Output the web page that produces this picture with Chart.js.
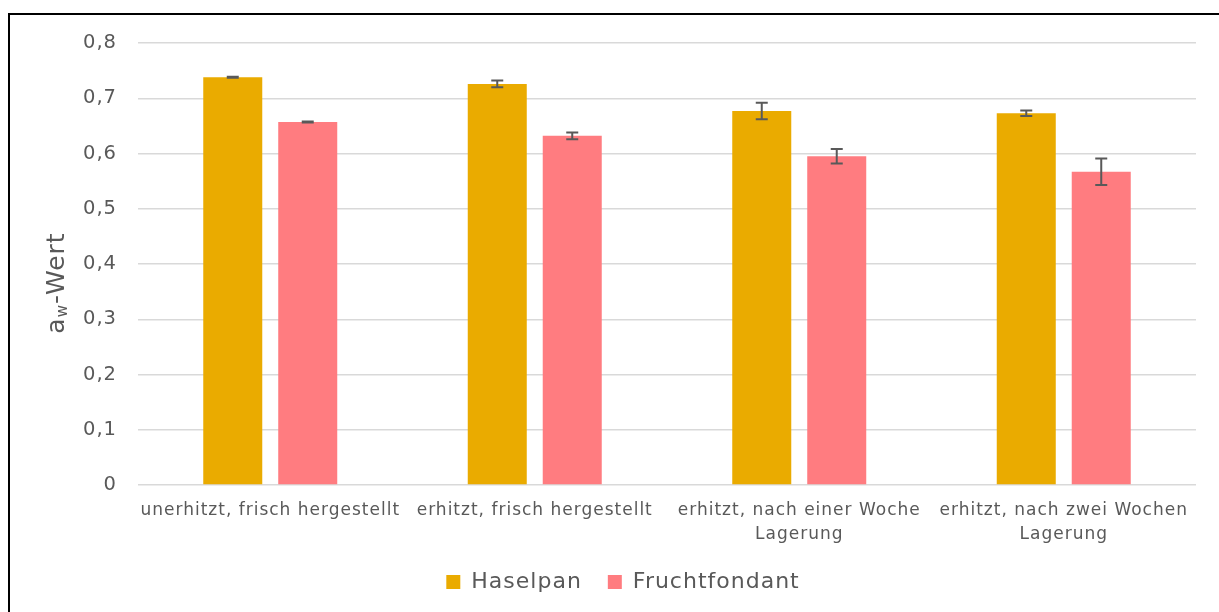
<!DOCTYPE html>
<html>
<head>
<meta charset="utf-8">
<script src="https://cdn.jsdelivr.net/npm/chart.js@4.4.1/dist/chart.umd.min.js"></script>
<style>
    html, body { margin: 0; padding: 0; background: #fff; }
    #wrap { position: relative; width: 1219px; height: 612px; overflow: hidden; }
    #frame {
        position: absolute; left: 8px; top: 13px; width: 1400px; height: 800px;
        border-left: 2px solid #000; border-top: 2px solid #000; pointer-events: none;
    }
    canvas { position: absolute; left: 0; top: 0; }
</style>
</head>
<body>
<div id="wrap">
    <canvas id="awChart" width="1219" height="612"></canvas>
    <div id="frame"></div>
</div>
<script>
// Data
const categories = [
    'unerhitzt, frisch hergestellt',
    'erhitzt, frisch hergestellt',
    ['erhitzt, nach einer Woche', 'Lagerung'],
    ['erhitzt, nach zwei Wochen', 'Lagerung']
];
const seriesNames = ['Haselpan', 'Fruchtfondant'];
const haselpan = [0.738, 0.726, 0.677, 0.673];
const haselpanErr = [0.001, 0.006, 0.015, 0.005];
const fruchtfondant = [0.657, 0.632, 0.595, 0.567];
const fruchtfondantErr = [0.001, 0.006, 0.013, 0.024];
const yTicks = [0, 0.1, 0.2, 0.3, 0.4, 0.5, 0.6, 0.7, 0.8];

const textColor = '#595959';
const fontFamily = '"DejaVu Sans", Verdana, sans-serif';

// Slightly wider text, like the original rendering
const spacingPlugin = {
    id: 'spacing',
    beforeInit(chart) { chart.ctx.letterSpacing = '1px'; },
    beforeUpdate(chart) { chart.ctx.letterSpacing = '1px'; },
    beforeDraw(chart) { chart.ctx.letterSpacing = '1px'; }
};

// Draws the error bars from the errors array stored on each dataset
const errorBarPlugin = {
    id: 'errorBars',
    afterDatasetsDraw(chart) {
        const ctx = chart.ctx;
        const yScale = chart.scales.y;
        chart.data.datasets.forEach((ds, i) => {
            const meta = chart.getDatasetMeta(i);
            meta.data.forEach((bar, j) => {
                const v = ds.data[j];
                const e = ds.errors[j];
                const top = yScale.getPixelForValue(v + e);
                const bottom = yScale.getPixelForValue(v - e);
                ctx.save();
                ctx.strokeStyle = '#595959';
                ctx.lineWidth = 2;
                ctx.beginPath();
                ctx.moveTo(bar.x, top);
                ctx.lineTo(bar.x, bottom);
                ctx.moveTo(bar.x - 6, top);
                ctx.lineTo(bar.x + 6, top);
                ctx.moveTo(bar.x - 6, bottom);
                ctx.lineTo(bar.x + 6, bottom);
                ctx.stroke();
                ctx.restore();
            });
        });
    }
};

// Y axis title with subscript w
const yTitlePlugin = {
    id: 'yTitle',
    afterDraw(chart) {
        const ctx = chart.ctx;
        ctx.save();
        ctx.translate(57, 283);
        ctx.rotate(-Math.PI / 2);
        ctx.fillStyle = textColor;
        ctx.textBaseline = 'middle';
        ctx.font = '25px ' + fontFamily;
        const wA = ctx.measureText('a').width;
        ctx.font = '15px ' + fontFamily;
        const wW = ctx.measureText('w').width;
        ctx.font = '25px ' + fontFamily;
        const wRest = ctx.measureText('-Wert').width;
        let x = -(wA + wW + wRest) / 2;
        ctx.textAlign = 'left';
        ctx.fillText('a', x, 0);
        x += wA;
        ctx.font = '15px ' + fontFamily;
        ctx.fillText('w', x, 6);
        x += wW;
        ctx.font = '25px ' + fontFamily;
        ctx.fillText('-Wert', x, 0);
        ctx.restore();
    }
};

new Chart(document.getElementById('awChart'), {
    type: 'bar',
    data: {
        labels: categories,
        datasets: [{
            label: seriesNames[0],
            data: haselpan,
            errors: haselpanErr,
            backgroundColor: '#EAAB00',
            categoryPercentage: 0.567,
            barPercentage: 0.787
        }, {
            label: seriesNames[1],
            data: fruchtfondant,
            errors: fruchtfondantErr,
            backgroundColor: '#FF7C80',
            categoryPercentage: 0.567,
            barPercentage: 0.787
        }]
    },
    options: {
        responsive: false,
        animation: false,
        devicePixelRatio: 1,
        layout: {
            padding: { left: 50, right: 23, top: 43, bottom: 9 }
        },
        plugins: {
            legend: {
                position: 'bottom',
                labels: {
                    boxWidth: 14,
                    boxHeight: 14,
                    padding: 26,
                    color: textColor,
                    font: { family: fontFamily, size: 22 }
                }
            },
            tooltip: { enabled: false }
        },
        scales: {
            x: {
                grid: { display: false, drawTicks: false },
                border: { display: false },
                ticks: {
                    color: textColor,
                    padding: 14,
                    maxRotation: 0,
                    autoSkip: false,
                    font: { family: fontFamily, size: 17, lineHeight: 1.4 }
                },
                afterFit(scale) {
                    scale.height = 60;
                }
            },
            y: {
                min: 0,
                max: 0.8,
                afterBuildTicks(scale) {
                    scale.ticks = yTicks.map(v => ({ value: v }));
                },
                grid: { color: '#D9D9D9', lineWidth: 1.5, drawTicks: false },
                border: { display: false },
                ticks: {
                    color: textColor,
                    padding: 21,
                    font: { family: fontFamily, size: 19.5 },
                    callback: v => v === 0 ? '0' : v.toFixed(1).replace('.', ',')
                },
                afterFit(scale) {
                    scale.width = 88;
                }
            }
        }
    },
    plugins: [spacingPlugin, errorBarPlugin, yTitlePlugin]
});
</script>
</body>
</html>
